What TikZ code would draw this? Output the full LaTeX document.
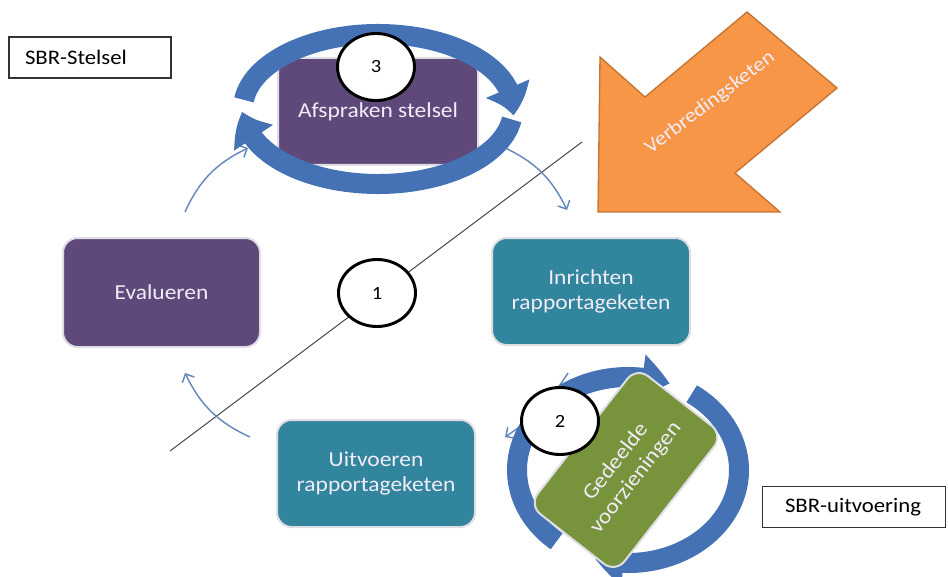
\documentclass[tikz,border=0pt]{standalone}
\usepackage{fontspec}
\setmainfont{Carlito}[FakeStretch=1.1]
\usepackage{xcolor}
\usetikzlibrary{arrows.meta,bending,shapes.geometric}

\definecolor{stelselpaars}{RGB}{95,73,122}
\definecolor{ketenblauw}{RGB}{49,133,156}
\definecolor{voorzgroen}{RGB}{119,147,60}
\definecolor{ringblauw}{RGB}{68,114,180}
\definecolor{pijlblauw}{RGB}{100,138,185}
\definecolor{breedoranje}{RGB}{247,150,70}
\definecolor{breedrand}{RGB}{196,116,52}
\definecolor{boxtekst}{RGB}{242,236,248}

\begin{document}
\begin{tikzpicture}[x=0.75pt,y=0.75pt,yscale=-1,xscale=1,
  procbox/.style={rounded corners=11pt, draw={rgb,255:red,222;green,222;blue,228}, line width=1.5pt,
    minimum width=148.5pt, minimum height=80.25pt, text=boxtekst, align=center,
    font=\fontsize{16}{19}\selectfont},
  labelbox/.style={draw=black!80, line width=0.8pt, align=left, inner ysep=0pt,
    minimum height=30.75pt, font=\fontsize{15.5}{18}\selectfont},
  nummer/.style={ellipse, draw, line width=2.2pt, fill=white, inner sep=0pt,
    minimum width=57.75pt, minimum height=50.25pt, font=\fontsize{14}{16}\selectfont},
  ringpijl/.style={ringblauw, line width=15pt, -{Triangle[length=21pt,width=34pt,bend]}},
  stap/.style={pijlblauw, line width=1.1pt, -{Straight Barb[length=5pt,width=10pt]}}]
\useasboundingbox (0,0) rectangle (948,577);

% Text Node
\node[labelbox, inner xsep=12pt, text width=97.5pt] (sbrstelsel) at (90,57.5) {SBR-Stelsel};
% Text Node
\node[labelbox, inner xsep=17pt, text width=103.5pt] (sbruitvoering) at (854,507) {SBR-uitvoering};

%Straight Lines
\coordinate (lijnA) at (170,451);
\coordinate (lijnB) at (582,142);
\draw [black!75, line width=0.7pt] (lijnA) -- (lijnB);

%Curved Arrows
\coordinate (e1) at (185,212); \coordinate (e2) at (248,148);
\coordinate (a1) at (503,147); \coordinate (a2) at (567,210);
\coordinate (i1) at (568,373); \coordinate (i2) at (505,437);
\coordinate (u1) at (250,437); \coordinate (u2) at (185,373);
\draw [stap] (e1) to[bend right=20] (e2);
\draw [stap] (a1) to[bend right=20] (a2);
\draw [stap] (i1) to[bend right=12] (i2);
\draw [stap] (u1) to[bend right=20] (u2);

%Rounded Rect
\node[procbox, fill=stelselpaars, minimum width=147.75pt, minimum height=81.75pt] (evalueren) at (161.5,292.5) {Evalueren};
%Rounded Rect
\node[procbox, fill=ketenblauw] (inrichten) at (591,291.5) {Inrichten\\rapportageketen};
%Rounded Rect
\node[procbox, fill=ketenblauw] (uitvoeren) at (376,473.5) {Uitvoeren\\rapportageketen};

%Rounded Rect
\node[procbox, fill=stelselpaars, minimum width=150pt] (afspraken) at (378,111.5) {Afspraken stelsel};
% ring around afspraken
\coordinate (ring1) at (378,109);
\draw [ringpijl] ([shift={(187:135 and 75)}]ring1) arc[start angle=187, end angle=365, x radius=135, y radius=75];
\draw [ringpijl] ([shift={(8:135 and 75)}]ring1) arc[start angle=8, end angle=178, x radius=135, y radius=75];
\node[nummer] (nr3) at (376,67) {3};

%Shape: Arrow
\draw [fill=breedoranje, draw=breedrand, line width=1pt] (598,212) -- (600,57) -- (645,97) -- (747,12) -- (837,88) -- (735,173) -- (780,212) -- cycle;
\node[text=boxtekst, rotate=37, font=\fontsize{15}{18}\selectfont] (verbreding) at (710,103) {Verbredingsketen};

% ring around gedeelde voorzieningen
\coordinate (ring2) at (628,470);
\draw [ringpijl] ([shift={(130:111 and 93)}]ring2) arc[start angle=130, end angle=292, x radius=111, y radius=93];
\draw [ringpijl] ([shift={(305:111 and 93)}]ring2) arc[start angle=305, end angle=467, x radius=111, y radius=93];
%Rounded Rect
\node[procbox, fill=voorzgroen, rotate=52, minimum width=131.25pt, minimum height=82.5pt] (gedeeld) at (626,470) {Gedeelde\\voorzieningen};
\node[nummer] (nr2) at (560,421) {2};

\node[nummer] (nr1) at (377,293) {1};

\end{tikzpicture}
\end{document}
